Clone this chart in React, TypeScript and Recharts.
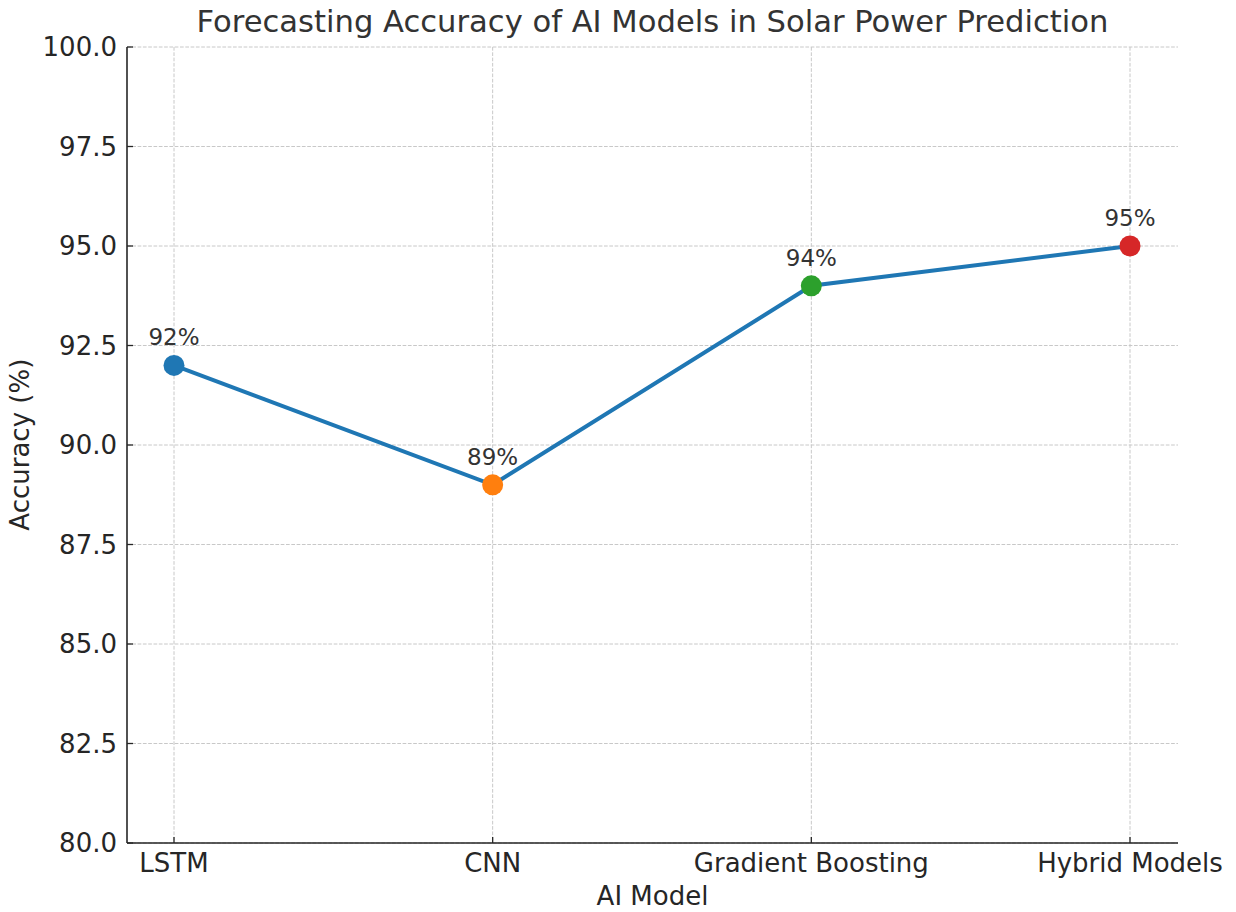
import React from 'react';
import { LineChart, Line, XAxis, YAxis, CartesianGrid, LabelList } from 'recharts';

const models = ['LSTM', 'CNN', 'Gradient Boosting', 'Hybrid Models'];
const accuracy = [92, 89, 94, 95];
const pointColors = ['#1f77b4', '#ff7f0e', '#2ca02c', '#d62728'];
const yTicks = [80, 82.5, 85, 87.5, 90, 92.5, 95, 97.5, 100];

const data = models.map((m, i) => ({ model: m, accuracy: accuracy[i] }));

const FONT = '"DejaVu Sans", sans-serif';
const TICK_COLOR = '#262626';

const XTick = (props: any) => {
  const { x, y, payload } = props;
  return (
    <g>
      <line x1={x} x2={x} y1={y} y2={y - 6} stroke={TICK_COLOR} strokeWidth={1.3} />
      <text x={x} y={y + 29} textAnchor="middle" fontSize={26} fill={TICK_COLOR} fontFamily={FONT}>
        {payload.value}
      </text>
    </g>
  );
};

const YTick = (props: any) => {
  const { x, y, payload } = props;
  return (
    <g>
      <line x1={x} x2={x + 6} y1={y} y2={y} stroke={TICK_COLOR} strokeWidth={1.3} />
      <text x={x - 10} y={y} dy="0.36em" textAnchor="end" fontSize={26} fill={TICK_COLOR} fontFamily={FONT}>
        {Number(payload.value).toFixed(1)}
      </text>
    </g>
  );
};

const renderDot = (props: any) => {
  const { cx, cy, index } = props;
  return <circle key={`dot-${index}`} cx={cx} cy={cy} r={10.5} fill={pointColors[index]} stroke="none" />;
};

const renderValueLabel = (props: any) => {
  const { x, y, value, index } = props;
  return (
    <text key={`lbl-${index}`} x={x} y={y - 20} textAnchor="middle" fontSize={23} fill="#333333" fontFamily={FONT}>
      {`${value}%`}
    </text>
  );
};

export default function App() {
  return (
    <div style={{ position: 'absolute', left: 0, top: 0, width: 1236, height: 912, background: '#ffffff', fontFamily: FONT }}>
      <div
        style={{
          position: 'absolute',
          left: 127,
          width: 1051,
          top: 4,
          textAlign: 'center',
          fontSize: 30.6,
          color: '#333333',
          fontFamily: FONT,
          whiteSpace: 'nowrap',
        }}
      >
        Forecasting Accuracy of AI Models in Solar Power Prediction
      </div>
      <LineChart
        width={1236}
        height={912}
        data={data}
        margin={{ top: 47, right: 58, bottom: 0, left: 0 }}
        style={{ position: 'absolute', left: 0, top: 0 }}
      >
        <CartesianGrid stroke="#c8c8c8" strokeDasharray="3.7 1.6" strokeWidth={1} syncWithTicks />
        <XAxis
          dataKey="model"
          height={69}
          padding={{ left: 47, right: 48 }}
          tickSize={0}
          tickMargin={0}
          tickLine={false}
          axisLine={{ stroke: TICK_COLOR, strokeWidth: 1.6 }}
          tick={<XTick />}
          interval={0}
          label={{
            content: () => (
              <text x={652.5} y={905} textAnchor="middle" fontSize={26} fill={TICK_COLOR} fontFamily={FONT}>
                AI Model
              </text>
            ),
          }}
        />
        <YAxis
          width={127}
          domain={[80, 100]}
          ticks={yTicks}
          type="number"
          allowDataOverflow
          tickSize={0}
          tickMargin={0}
          tickLine={false}
          axisLine={{ stroke: TICK_COLOR, strokeWidth: 1.6 }}
          tick={<YTick />}
          interval={0}
          label={{
            content: () => (
              <text
                x={29}
                y={444.7}
                transform="rotate(-90 29 444.7)"
                textAnchor="middle"
                fontSize={26}
                fill={TICK_COLOR}
                fontFamily={FONT}
              >
                Accuracy (%)
              </text>
            ),
          }}
        />
        <Line
          type="linear"
          dataKey="accuracy"
          stroke="#1f77b4"
          strokeWidth={4}
          dot={renderDot}
          activeDot={false}
          isAnimationActive={false}
        >
          <LabelList dataKey="accuracy" content={renderValueLabel} />
        </Line>
      </LineChart>
    </div>
  );
}
